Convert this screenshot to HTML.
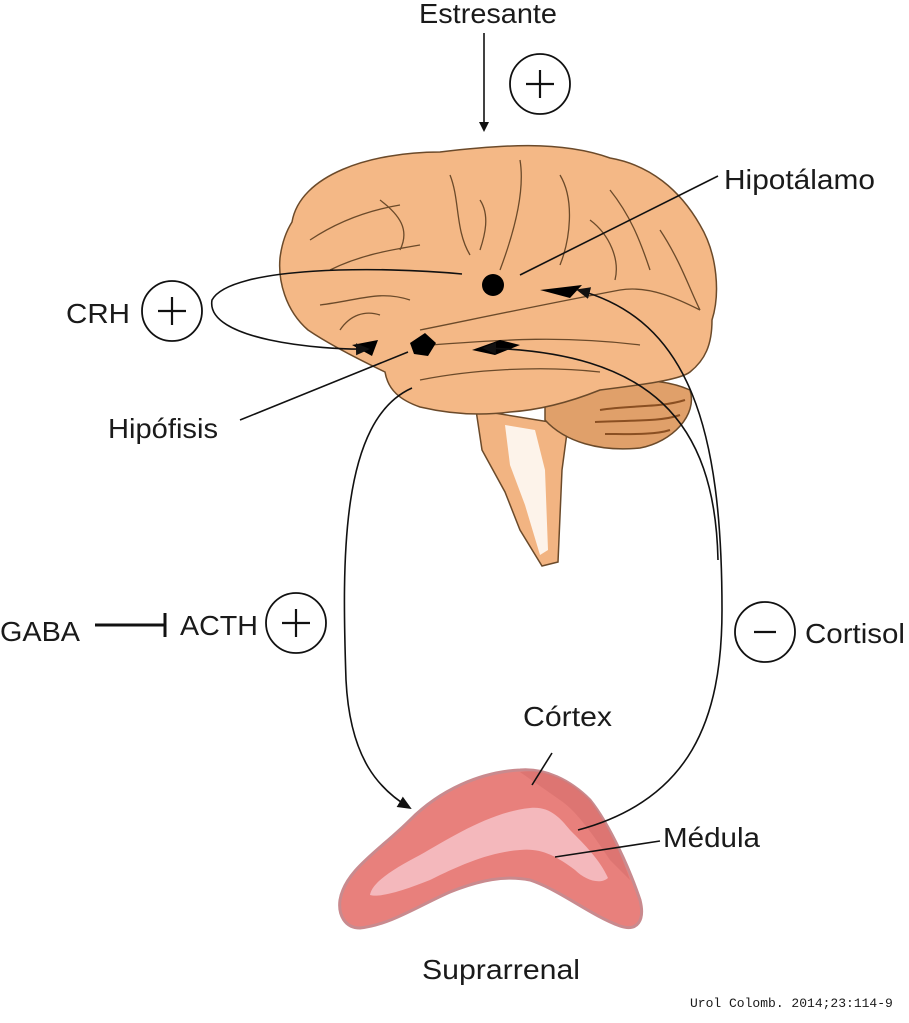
<!DOCTYPE html>
<html><head><meta charset="utf-8"><style>
html,body{margin:0;padding:0;background:#fff;}
svg{display:block;}
text{font-family:"Liberation Sans",sans-serif;fill:#1a1a1a;}
</style></head><body>
<svg width="909" height="1023" viewBox="0 0 909 1023" xmlns="http://www.w3.org/2000/svg">
<defs>
<marker id="ah" markerWidth="10" markerHeight="10" refX="8" refY="5" orient="auto" markerUnits="userSpaceOnUse">
<path d="M0,0 L10,5 L0,10 Z" fill="#111"/></marker>
<marker id="ah2" markerWidth="14" markerHeight="14" refX="12" refY="7" orient="auto" markerUnits="userSpaceOnUse">
<path d="M0,1 L14,7 L0,13 Z" fill="#111"/></marker>
</defs>

<!-- brain stem -->
<path d="M476,410 L568,425 L562,470 L558,562 L542,566 L520,530 L505,492 L482,450 Z" fill="#f2b482" stroke="#6b4a2a" stroke-width="1.5"/>
<path d="M505,425 L535,430 L545,470 L548,550 L540,555 L525,505 L510,465 Z" fill="#fdf3ea"/>
<!-- cerebellum -->
<path d="M545,405 C580,380 650,372 690,390 C698,415 672,442 640,448 C600,452 565,442 545,420 Z" fill="#e0a06a" stroke="#6b4a2a" stroke-width="1.5"/>
<g stroke="#8a4f22" stroke-width="2" fill="none">
<path d="M600,410 C630,405 660,408 685,400"/>
<path d="M595,422 C630,420 660,422 680,415"/>
<path d="M605,434 C630,434 655,435 670,430"/>
</g>
<!-- cerebrum -->
<path d="M292,222 C300,175 370,152 440,152 C500,145 560,140 610,158 C650,165 680,190 700,225 C718,255 720,295 712,320 C712,345 705,360 690,372 C680,380 640,385 600,390 C570,402 540,410 510,412 C480,416 450,414 420,407 C400,400 388,390 385,372 C360,360 330,345 308,330 C285,310 278,280 280,258 C282,242 287,230 292,222 Z" fill="#f4b886" stroke="#6b4a2a" stroke-width="1.5"/>
<g fill="none" stroke="#6b4a2a" stroke-width="1.3">
<path d="M310,240 C340,220 370,210 400,205"/>
<path d="M330,270 C360,255 390,250 420,245"/>
<path d="M450,175 C460,200 455,230 470,255"/>
<path d="M520,160 C525,190 515,230 500,270"/>
<path d="M560,175 C575,200 570,240 560,265"/>
<path d="M610,190 C630,215 640,240 650,270"/>
<path d="M660,230 C680,260 690,290 700,310"/>
<path d="M320,305 C360,300 380,290 410,300"/>
<path d="M420,330 C470,320 540,305 620,290 C650,285 680,300 700,310"/>
<path d="M430,345 C500,340 560,335 640,345"/>
<path d="M420,380 C470,370 540,365 600,372"/>
<path d="M380,200 C400,215 410,230 400,250"/>
<path d="M590,220 C610,235 620,260 615,280"/>
<path d="M480,200 C490,215 485,235 480,250"/>
<path d="M340,330 C350,315 365,310 380,315"/>
</g>
<!-- nuclei -->
<circle cx="493" cy="285" r="11" fill="#000"/>
<path d="M410,343 L425,333 L436,343 L428,356 L414,354 Z" fill="#000"/>
<path d="M540,290 L582,285 L570,298 Z" fill="#000"/>
<path d="M472,350 L500,340 L520,345 L495,355 Z" fill="#000"/>
<path d="M352,345 L378,340 L372,356 Z" fill="#000"/>

<!-- adrenal -->
<path d="M340,900 C345,870 380,850 410,820 C440,790 480,772 520,770 C545,768 570,780 590,800 C610,825 630,870 640,900 C645,920 638,932 620,926 C590,915 560,890 530,880 C505,875 480,880 450,892 C420,905 390,925 360,928 C345,928 338,915 340,900 Z" fill="#e8807c" stroke="#c98a8e" stroke-width="3"/>
<path d="M520,772 C545,768 570,780 590,800 C605,820 620,850 630,880 L610,860 C590,830 575,810 560,800 Z" fill="#d8706e" opacity="0.7"/>
<path d="M370,895 C372,882 395,868 420,855 C450,838 490,812 530,808 C550,806 560,818 570,830 C585,845 600,860 608,878 C600,885 585,880 575,870 C555,855 540,848 520,850 C490,852 460,865 430,880 C405,890 380,898 370,895 Z" fill="#f4b8bc"/>

<!-- connectors -->
<g fill="none" stroke="#111" stroke-width="1.6">
<line x1="484" y1="33" x2="484" y2="130" marker-end="url(#ah)"/>
<path d="M462,274 C380,266 230,266 212,300 C205,340 320,350 368,349" marker-end="url(#ah2)"/>
<line x1="520" y1="275" x2="718" y2="176"/>
<line x1="240" y1="420" x2="408" y2="352"/>
<path d="M412,388 C340,420 342,560 346,680 C350,760 380,790 410,808" marker-end="url(#ah2)"/>
<path d="M578,830 C690,800 722,720 722,610 C722,430 690,320 578,290" marker-end="url(#ah2)"/>
<path d="M718,560 C715,420 650,352 484,348" marker-end="url(#ah2)"/>
<line x1="95" y1="625" x2="164" y2="625" stroke-width="3"/>
<line x1="165" y1="613" x2="165" y2="637" stroke-width="3"/>
<line x1="532" y1="785" x2="552" y2="753"/>
<line x1="555" y1="857" x2="660" y2="841"/>
</g>

<!-- circles -->
<g fill="none" stroke="#111" stroke-width="1.8">
<circle cx="540" cy="84" r="30"/>
<circle cx="172" cy="311" r="30"/>
<circle cx="296" cy="623" r="30"/>
<circle cx="765" cy="632" r="30"/>
</g>
<g stroke="#111" stroke-width="2.2">
<line x1="526" y1="84" x2="554" y2="84"/><line x1="540" y1="70" x2="540" y2="98"/>
<line x1="158" y1="311" x2="186" y2="311"/><line x1="172" y1="297" x2="172" y2="325"/>
<line x1="282" y1="623" x2="310" y2="623"/><line x1="296" y1="609" x2="296" y2="637"/>
<line x1="754" y1="632" x2="776" y2="632"/>
</g>

<!-- labels -->
<g font-size="28">
<text x="419" y="23" textLength="138" lengthAdjust="spacingAndGlyphs">Estresante</text>
<text x="724" y="189" textLength="151" lengthAdjust="spacingAndGlyphs">Hipotálamo</text>
<text x="66" y="323" textLength="64" lengthAdjust="spacingAndGlyphs">CRH</text>
<text x="108" y="438" textLength="110" lengthAdjust="spacingAndGlyphs">Hipófisis</text>
<text x="0" y="641" textLength="80" lengthAdjust="spacingAndGlyphs">GABA</text>
<text x="180" y="635" textLength="78" lengthAdjust="spacingAndGlyphs">ACTH</text>
<text x="805" y="643" textLength="100" lengthAdjust="spacingAndGlyphs">Cortisol</text>
<text x="523" y="726" textLength="89" lengthAdjust="spacingAndGlyphs">Córtex</text>
<text x="663" y="847" textLength="97" lengthAdjust="spacingAndGlyphs">Médula</text>
<text x="422" y="979" textLength="158" lengthAdjust="spacingAndGlyphs">Suprarrenal</text>
</g>
<text x="690" y="1007" font-size="13" style="font-family:'Liberation Mono',monospace">Urol Colomb. 2014;23:114-9</text>
</svg>
</body></html>
